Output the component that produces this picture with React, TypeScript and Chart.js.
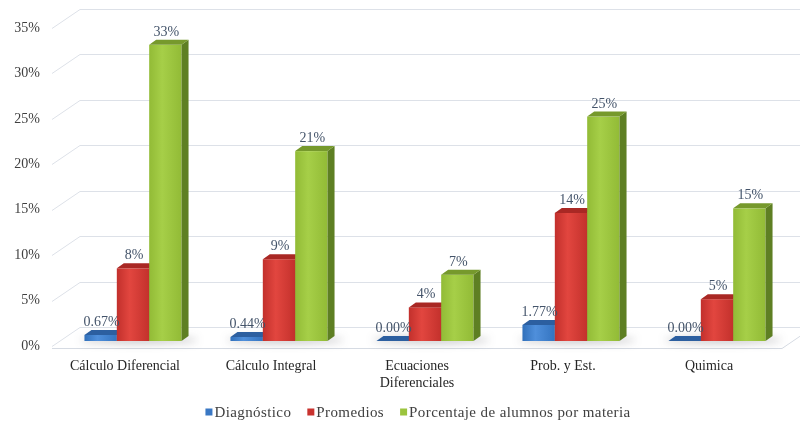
import React, { useEffect, useRef } from "react";
import { Chart, registerables } from "chart.js";

Chart.register(...registerables);

const categories: (string | string[])[] = [
  "Cálculo Diferencial",
  "Cálculo Integral",
  ["Ecuaciones", "Diferenciales"],
  "Prob. y Est.",
  "Quimica",
];
const seriesNames = ["Diagnóstico", "Promedios", "Porcentaje de alumnos por materia"];
const diagnostico = [0.67, 0.44, 0.0, 1.77, 0.0];
const promedios = [8.0, 9.0, 3.7, 14.1, 4.6];
const porcentaje = [32.6, 20.9, 7.3, 24.7, 14.6];
const yTicks = [0, 5, 10, 15, 20, 25, 30, 35];
const labelDecimals = [2, 0, 0];

const palettes = [
  { front: ["#3170ba", "#4f8fdb", "#3474c0"], side: "#26568f", top: "#2c5fa0", legend: "#3a78c4" },
  { front: ["#c2302c", "#e2463f", "#c3312c"], side: "#8f1f1b", top: "#a92824", legend: "#c9332f" },
  { front: ["#92bb36", "#a6cf48", "#92bb36"], side: "#5e7f23", top: "#76992c", legend: "#9bc43e" },
];

const FONT = "'Liberation Serif', 'Times New Roman', serif";

const bars3d = {
  id: "bars3d",
  beforeDatasetsDraw(chart: any) {
    const { ctx, chartArea, scales } = chart;
    const y = scales.y;
    const L = chartArea.left;
    const R = chartArea.right;
    const BX = 28, BY = -19;
    ctx.save();
    ctx.lineWidth = 1;
    ctx.strokeStyle = "#dde1e8";
    for (const v of yTicks) {
      const yf = Math.round(y.getPixelForValue(v)) + 0.5;
      ctx.beginPath();
      ctx.moveTo(L, yf);
      ctx.lineTo(L + BX, yf + BY);
      ctx.lineTo(chart.width, yf + BY);
      ctx.stroke();
    }
    const y0 = Math.round(y.getPixelForValue(0)) + 0.5;
    ctx.strokeStyle = "#d6dbe3";
    ctx.beginPath();
    ctx.moveTo(L, y0 + 2);
    ctx.lineTo(R, y0 + 2);
    ctx.lineTo(R + BX, y0 + 2 + BY);
    ctx.stroke();
    ctx.restore();
  },
  afterDatasetsDraw(chart: any) {
    const { ctx } = chart;
    const OX = 8, OY = -5, DX = 7, DY = -5;
    const metas = [0, 1, 2].map((j) => chart.getDatasetMeta(j));
    ctx.save();
    for (let i = 0; i < categories.length; i++) {
      const first = metas[0].data[i];
      const last = metas[2].data[i];
      const sx0 = first.x - first.width / 2 + OX;
      const sx1 = last.x + last.width / 2 + OX;
      const sb = first.base + OY;
      ctx.save();
      ctx.filter = "blur(4px)";
      ctx.fillStyle = "rgba(60,60,70,0.35)";
      ctx.beginPath();
      ctx.ellipse((sx0 + sx1) / 2 + 6, sb - 1, (sx1 - sx0) / 2 + 10, 3, 0, 0, Math.PI * 2);
      ctx.fill();
      ctx.restore();

      for (let j = 0; j < 3; j++) {
        const bar = metas[j].data[i];
        const p = palettes[j];
        const w = bar.width;
        const x0 = bar.x - w / 2 + OX;
        const x1 = x0 + w;
        const yt = bar.y + OY;
        const yb = bar.base + OY;
        if (yb - yt > 0.5) {
          const g = ctx.createLinearGradient(x0, 0, x1, 0);
          g.addColorStop(0, p.front[0]);
          g.addColorStop(0.4, p.front[1]);
          g.addColorStop(1, p.front[2]);
          ctx.fillStyle = g;
          ctx.fillRect(x0, yt, w, yb - yt);
        }
        ctx.fillStyle = p.side;
        ctx.beginPath();
        ctx.moveTo(x1, yt);
        ctx.lineTo(x1 + DX, yt + DY);
        ctx.lineTo(x1 + DX, yb + DY);
        ctx.lineTo(x1, yb);
        ctx.closePath();
        ctx.fill();
        ctx.fillStyle = p.top;
        ctx.beginPath();
        ctx.moveTo(x0, yt);
        ctx.lineTo(x0 + DX, yt + DY);
        ctx.lineTo(x1 + DX, yt + DY);
        ctx.lineTo(x1, yt);
        ctx.closePath();
        ctx.fill();
      }
    }
    ctx.font = `14px ${FONT}`;
    ctx.fillStyle = "#44546a";
    ctx.textAlign = "center";
    ctx.textBaseline = "alphabetic";
    for (let j = 0; j < 3; j++) {
      const ds = chart.data.datasets[j];
      metas[j].data.forEach((bar: any, i: number) => {
        const v = ds.data[i] as number;
        const txt = v.toFixed(labelDecimals[j]) + "%";
        ctx.fillText(txt, bar.x + OX + 1, bar.y + OY + DY - 4);
      });
    }
    ctx.restore();
  },
  afterDraw(chart: any) {
    const { ctx } = chart;
    ctx.save();
    ctx.font = `15px ${FONT}`;
    (ctx as any).letterSpacing = "0.4px";
    ctx.textBaseline = "middle";
    ctx.textAlign = "left";
    const box = 7, gapBox = 2, gapItem = 16;
    const widths = seriesNames.map((n) => box + gapBox + ctx.measureText(n).width);
    const total = widths.reduce((a, b) => a + b, 0) + gapItem * (widths.length - 1);
    let x = (chart.width - total) / 2 + 18;
    const yc = 412;
    seriesNames.forEach((n, k) => {
      ctx.fillStyle = palettes[k].legend;
      ctx.fillRect(x, yc - box / 2, box, box);
      ctx.fillStyle = "#404040";
      ctx.fillText(n, x + box + gapBox, yc + 1);
      x += widths[k] + gapItem;
    });
    ctx.restore();
  },
};

export default function App() {
  const ref = useRef<HTMLCanvasElement>(null);
  useEffect(() => {
    document.body.style.margin = "0";
    const chart = new Chart(ref.current!, {
      type: "bar",
      data: {
        labels: categories,
        datasets: [diagnostico, promedios, porcentaje].map((d, k) => ({
          label: seriesNames[k],
          data: d,
          backgroundColor: "rgba(0,0,0,0)",
          borderWidth: 0,
          categoryPercentage: 0.665,
          barPercentage: 1.0,
        })),
      },
      options: {
        responsive: false,
        animation: false,
        layout: { padding: { top: 28, right: 18, left: 0, bottom: 0 } },
        plugins: { legend: { display: false }, tooltip: { enabled: false } },
        scales: {
          x: {
            grid: { display: false, drawTicks: false },
            border: { display: false },
            ticks: { font: { family: FONT, size: 14 }, color: "#262626", padding: 12, maxRotation: 0 },
            afterFit: (a: any) => { a.height = 78; },
          },
          y: {
            min: 0,
            max: 35,
            grid: { display: false, drawTicks: false },
            border: { display: false },
            ticks: {
              stepSize: 5,
              font: { family: FONT, size: 14 },
              color: "#404040",
              padding: 12,
              callback: (v: any) => v + "%",
            },
            afterFit: (a: any) => { a.width = 52; },
          },
        },
      },
      plugins: [bars3d],
    });
    return () => chart.destroy();
  }, []);
  return <canvas ref={ref} width={800} height={424} style={{ display: "block" }} />;
}
